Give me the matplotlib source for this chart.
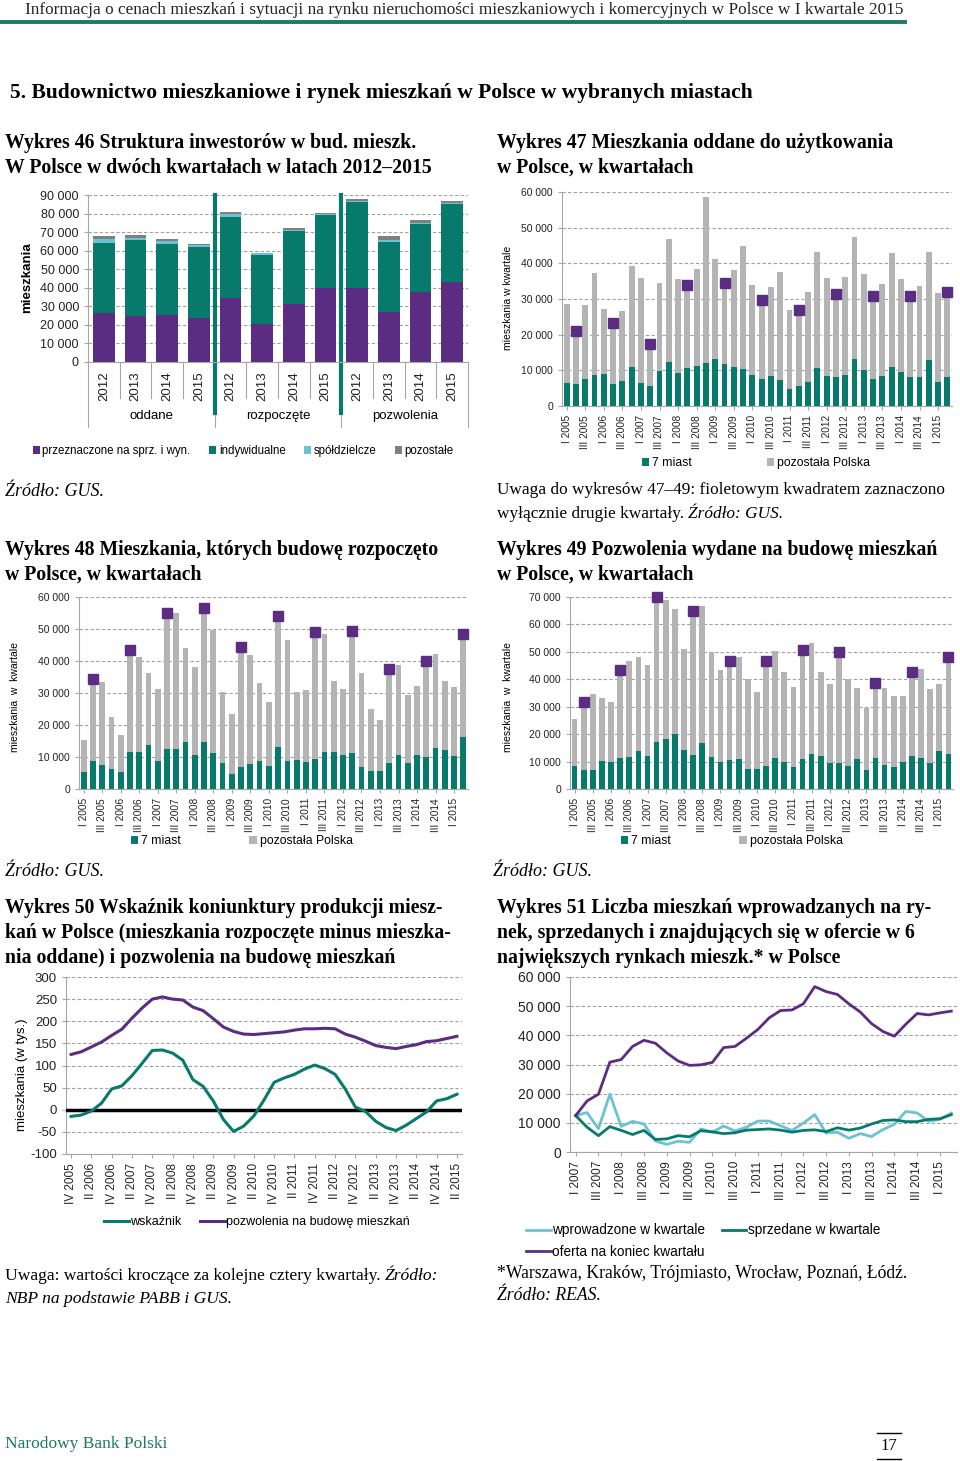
import numpy as np
import matplotlib
matplotlib.use('Agg')
import matplotlib.pyplot as plt
import matplotlib.transforms as mtransforms
from matplotlib.lines import Line2D
from matplotlib.ticker import FuncFormatter, MultipleLocator

W, H = 960, 1461
SERIF = ['Liberation Serif', 'DejaVu Serif']
SANS = ['Liberation Sans', 'DejaVu Sans']
plt.rcParams['font.family'] = SANS
plt.rcParams['axes.unicode_minus'] = False

PURPLE = '#5a2d82'
TEAL = '#077a6b'
LBLUE = '#6bc2d3'
LGRAY = '#b4b4b4'
DGRAY = '#808080'
AXC = '#a6a6a6'

# Wykres 46 - struktura inwestorow (2 kwartaly)
groups46 = ['oddane', 'rozpoczęte', 'pozwolenia']
years46 = ['2012', '2013', '2014', '2015'] * 3
sprz46 = [26500, 25000, 25500, 23500, 34500, 20500, 31000, 40000, 40000, 27000, 37500, 43000]
indyw46 = [37500, 40500, 38000, 38500, 43500, 37000, 39500, 39000, 46000, 37500, 37000, 42000]
spold46 = [2500, 1500, 1500, 1000, 2000, 1000, 500, 1000, 500, 1000, 500, 500]
pozost46 = [1500, 1500, 1300, 500, 700, 500, 1300, 300, 1500, 2500, 1500, 1000]

# kwartaly I 2005 - II 2015
quarters = [f'{r} {y}' for y in range(2005, 2016) for r in ['I', 'II', 'III', 'IV']][:42]

# Wykres 47 - oddane
total47 = [28500, 21000, 28200, 37300, 27300, 23300, 26500, 39200, 35800, 17300,
           34500, 46800, 35700, 33800, 38500, 58500, 41200, 34500, 38200, 44800,
           33800, 29600, 33300, 37700, 27000, 27000, 32000, 43300, 35800, 31500,
           36300, 47400, 37100, 30800, 34100, 42900, 35500, 30800, 33600, 43100,
           31700, 32000]
miast47 = [6500, 6200, 7700, 8700, 9100, 6300, 7000, 10900, 6500, 5500,
           9800, 12300, 9200, 10600, 11300, 12000, 13200, 11800, 10800, 10400,
           8700, 7500, 8300, 7200, 4700, 5600, 6800, 10600, 8500, 8000,
           8800, 13200, 10000, 7500, 8500, 11000, 9400, 8200, 8100, 12800,
           6800, 8200]

# Wykres 48 - rozpoczete
total48 = [15200, 34500, 33400, 22600, 16800, 43500, 41300, 36300, 31300, 55000,
           54900, 44000, 38000, 56600, 49600, 30300, 23500, 44500, 42000, 33000,
           27300, 54000, 46700, 30300, 30900, 49200, 48300, 33900, 31400, 49300,
           36100, 25000, 21600, 37500, 38900, 29500, 32200, 40000, 42300, 33600,
           31800, 48500]
miast48 = [5300, 8900, 7500, 6400, 5400, 11500, 11500, 13900, 8600, 12600,
           12600, 14800, 10600, 14800, 11400, 8200, 4800, 6800, 7800, 8800,
           7100, 13200, 8800, 9200, 8400, 9500, 11600, 11600, 10500, 11400,
           7000, 5700, 5700, 8200, 10600, 8200, 10600, 10100, 12700, 12300,
           10200, 16400]

# Wykres 49 - pozwolenia
total49 = [25500, 31800, 34700, 33300, 31700, 43500, 46700, 48000, 45200, 70000,
           68800, 65600, 50900, 65000, 66900, 50000, 43400, 46800, 48300, 40200,
           35400, 46800, 50200, 42600, 37300, 50800, 53300, 42800, 38300, 49800,
           40000, 37000, 29400, 38500, 37000, 34000, 34000, 42500, 43700, 36600,
           38400, 48000]
miast49 = [8500, 6800, 7100, 10100, 9900, 11300, 11800, 13900, 11900, 17100,
           18300, 19900, 14300, 12500, 16700, 11800, 9800, 10500, 11000, 7400,
           7200, 8300, 11200, 10000, 8200, 11000, 12600, 12200, 9500, 9500,
           8300, 10800, 7100, 11200, 8600, 8000, 9900, 11900, 11400, 9400,
           13700, 12600]

# Wykres 50 - IV 2005 .. II 2015
quarters50 = quarters[3:]
wskaznik50 = [-15, -12, -3, 15, 47, 54, 77, 105, 134, 135, 128, 112, 68, 53, 20,
              -22, -49, -37, -14, 22, 62, 72, 80, 92, 101, 93, 80, 47, 6, -4,
              -26, -40, -47, -35, -20, -5, 20, 25, 35]
pozwol50 = [125, 131, 142, 153, 168, 182, 207, 230, 250, 255, 250, 248, 232, 224,
            206, 187, 177, 171, 170, 172, 174, 176, 180, 183, 183, 184, 183, 171,
            164, 155, 145, 141, 138, 143, 147, 154, 156, 161, 166]

# Wykres 51 - I 2007 .. II 2015
quarters51 = quarters[8:]
oferta51 = [12500, 17500, 19800, 30800, 31700, 36200, 38300, 37300, 34000, 31200,
            29700, 29900, 30700, 35800, 36200, 39000, 42000, 46000, 48500, 48700,
            50800, 56700, 55000, 54000, 50800, 48000, 44000, 41300, 39700, 43800,
            47500, 47000, 47700, 48300]
wprow51 = [12500, 13500, 8000, 19800, 8800, 10500, 9600, 3800, 2600, 3700,
           3300, 7900, 6800, 8900, 7200, 8500, 10600, 10600, 9000, 7400,
           9900, 12800, 6500, 6800, 4700, 6300, 5300, 7700, 9500, 13900,
           13400, 10500, 11200, 13300]
sprzed51 = [12500, 8500, 5600, 8700, 7400, 6000, 7400, 4300, 4500, 5600,
            5200, 7300, 6900, 6300, 6600, 7500, 7700, 7900, 7500, 6800,
            7400, 7600, 7000, 8300, 7500, 8200, 9600, 10800, 11000, 10400,
            10400, 11200, 11400, 12800]

fig = plt.figure(figsize=(W / 100, H / 100), dpi=100)
fig.patch.set_facecolor('white')


def axes_px(left, top, right, bottom):
    return fig.add_axes([left / W, 1 - bottom / H, (right - left) / W, (bottom - top) / H])


def thousands(v, pos):
    return f'{int(round(v)):,}'.replace(',', ' ')


def style_ax(ax, fs):
    for s in ['top', 'right']:
        ax.spines[s].set_visible(False)
    for s in ['left', 'bottom']:
        ax.spines[s].set_color(AXC)
    ax.yaxis.grid(True, color='#a0a0a0', ls=(0, (3, 2)), lw=0.8)
    ax.set_axisbelow(True)
    ax.tick_params(colors=AXC, labelcolor='#222222', labelsize=fs, length=3)


def ftext(x, y, s, **kw):
    kw.setdefault('va', 'center')
    kw.setdefault('family', SERIF)
    return fig.text(x / W, 1 - y / H, s, **kw)


def text_parts(x, y, parts, size):
    r = fig.canvas.get_renderer()
    for s, st in parts:
        t = ftext(x, y, s, fontsize=size, style=st)
        x = t.get_window_extent(r).x1


# ---------- naglowki ----------
ftext(25, 10, 'Informacja o cenach mieszkań i sytuacji na rynku nieruchomości mieszkaniowych i komercyjnych w Polsce w I kwartale 2015',
      fontsize=12.4, color='#222222')
fig.add_artist(Line2D([0, 905 / W], [1 - 22 / H] * 2, color='#1d7a60', lw=2.8))
ftext(10, 93, '5. Budownictwo mieszkaniowe i rynek mieszkań w Polsce w wybranych miastach',
      fontsize=15.5, weight='bold')

TF = 14.2
ftext(5, 143, 'Wykres 46 Struktura inwestorów w bud. mieszk.', fontsize=TF, weight='bold')
ftext(5, 168, 'W Polsce w dwóch kwartałach w latach 2012–2015', fontsize=TF, weight='bold')
ftext(497, 143, 'Wykres 47 Mieszkania oddane do użytkowania', fontsize=TF, weight='bold')
ftext(497, 168, 'w Polsce, w kwartałach', fontsize=TF, weight='bold')

# ---------- Wykres 46 ----------
ax = axes_px(88, 195, 468, 362)
style_ax(ax, 8.5)
x46 = np.arange(len(years46))
b1 = np.array(sprz46)
b2 = b1 + np.array(indyw46)
b3 = b2 + np.array(spold46)
ax.bar(x46, sprz46, width=0.68, color=PURPLE, label='przeznaczone na sprz. i wyn.')
ax.bar(x46, indyw46, bottom=b1, width=0.68, color=TEAL, label='indywidualne')
ax.bar(x46, spold46, bottom=b2, width=0.68, color=LBLUE, label='spółdzielcze')
ax.bar(x46, pozost46, bottom=b3, width=0.68, color=DGRAY, label='pozostałe')
ax.set_xlim(-0.5, 11.5)
ax.set_ylim(0, 90000)
ax.yaxis.set_major_locator(MultipleLocator(10000))
ax.yaxis.set_major_formatter(FuncFormatter(thousands))
ax.tick_params(axis='y', labelsize=9)
ax.set_xticks(x46)
ax.set_xticklabels(years46, rotation=90, fontsize=9.5)
ax.tick_params(axis='x', length=0, pad=7)
tr = mtransforms.blended_transform_factory(ax.transData, ax.transAxes)
for b in np.arange(-0.5, 12, 1):
    low = -0.39 if b in (-0.5, 3.5, 7.5, 11.5) else -0.216
    ax.plot([b, b], [0, low], color=AXC, lw=0.8, transform=tr, clip_on=False)
for b in (3.5, 7.5):
    ax.plot([b, b], [1.0, -0.305], color=TEAL, lw=3, transform=tr, clip_on=False)
for i, g in enumerate(groups46):
    ax.text(4 * i + 1.5, -0.325, g, transform=tr, ha='center', va='center', fontsize=9.5)
fig.text(27 / W, 1 - 278 / H, 'mieszkania', rotation=90, ha='center', va='center',
         fontsize=9.5, weight='bold')
ax.legend(loc='center left', bbox_to_anchor=(28 / W, 1 - 451 / H), bbox_transform=fig.transFigure,
          ncol=4, frameon=False, fontsize=8.3, handlelength=0.6, handleheight=0.6,
          handletextpad=0.25, columnspacing=1.6, borderaxespad=0)


# ---------- Wykresy 47-49 ----------
def quarter_chart(box, miast, total, ymax, ylab, ylab_xy, leg_xy, leg_gap):
    ax = axes_px(*box)
    style_ax(ax, 7.5)
    x = np.arange(len(total))
    tot = np.array(total)
    ax.bar(x, miast, width=0.62, color=TEAL, label='7 miast')
    ax.bar(x, tot - np.array(miast), bottom=miast, width=0.62, color=LGRAY, label='pozostała Polska')
    q2 = x[1::4]
    ax.plot(q2, tot[q2], 's', color=PURPLE, ms=6.5, zorder=5, clip_on=False)
    ax.set_xlim(-0.5, len(total) - 0.5)
    ax.set_ylim(0, ymax)
    ax.yaxis.set_major_locator(MultipleLocator(10000))
    ax.yaxis.set_major_formatter(FuncFormatter(thousands))
    ax.set_xticks(x[::2])
    ax.set_xticklabels(quarters[::2], rotation=90, fontsize=7.3)
    fig.text(ylab_xy[0] / W, 1 - ylab_xy[1] / H, ylab, rotation=90, ha='center', va='center',
             fontsize=7.5)
    ax.legend(loc='center left', bbox_to_anchor=(leg_xy[0] / W, 1 - leg_xy[1] / H),
              bbox_transform=fig.transFigure, ncol=2, frameon=False, fontsize=8.8,
              handlelength=0.6, handleheight=0.6, handletextpad=0.25,
              columnspacing=leg_gap, borderaxespad=0)
    return ax


quarter_chart((562, 192, 952, 406), miast47, total47, 60000, 'mieszkania w kwartale',
              (508, 298), (637, 463), 6.1)
quarter_chart((79, 597, 468, 789), miast48, total48, 60000, 'mieszkania  w  kwartale',
              (15, 697), (126, 841), 5.6)
quarter_chart((570, 597, 953, 789), miast49, total49, 70000, 'mieszkania  w  kwartale',
              (508, 697), (616, 841), 5.6)

# teksty srodkowe
ftext(5, 492, 'Źródło: GUS.', fontsize=13, style='italic')
ftext(497, 490, 'Uwaga do wykresów 47–49: fioletowym kwadratem zaznaczono', fontsize=12.4)
text_parts(497, 514, [('wyłącznie drugie kwartały. ', 'normal'), ('Źródło: GUS.', 'italic')], 12.4)
ftext(5, 550, 'Wykres 48 Mieszkania, których budowę rozpoczęto', fontsize=TF, weight='bold')
ftext(5, 575, 'w Polsce, w kwartałach', fontsize=TF, weight='bold')
ftext(497, 550, 'Wykres 49 Pozwolenia wydane na budowę mieszkań', fontsize=TF, weight='bold')
ftext(497, 575, 'w Polsce, w kwartałach', fontsize=TF, weight='bold')
ftext(5, 871, 'Źródło: GUS.', fontsize=13, style='italic')
ftext(493, 871, 'Źródło: GUS.', fontsize=13, style='italic')
ftext(5, 908, 'Wykres 50 Wskaźnik koniunktury produkcji miesz-', fontsize=TF, weight='bold')
ftext(5, 933, 'kań w Polsce (mieszkania rozpoczęte minus mieszka-', fontsize=TF, weight='bold')
ftext(5, 958, 'nia oddane) i pozwolenia na budowę mieszkań', fontsize=TF, weight='bold')
ftext(497, 908, 'Wykres 51 Liczba mieszkań wprowadzanych na ry-', fontsize=TF, weight='bold')
ftext(497, 933, 'nek, sprzedanych i znajdujących się w ofercie w 6', fontsize=TF, weight='bold')
ftext(497, 958, 'największych rynkach mieszk.* w Polsce', fontsize=TF, weight='bold')

# ---------- Wykres 50 ----------
ax = axes_px(66, 977, 462, 1154)
style_ax(ax, 9.5)
x50 = np.arange(len(wskaznik50))
ax.axhline(0, color='black', lw=2.5, zorder=3)
ax.plot(x50, wskaznik50, color=TEAL, lw=2.2, label='wskaźnik', zorder=4)
ax.plot(x50, pozwol50, color=PURPLE, lw=2.2, label='pozwolenia na budowę mieszkań', zorder=4)
ax.set_xlim(-0.5, len(x50) - 0.5)
ax.set_ylim(-100, 300)
ax.yaxis.set_major_locator(MultipleLocator(50))
ax.set_xticks(x50[::2])
ax.set_xticklabels(quarters50[::2], rotation=90, fontsize=8.5)
fig.text(22 / W, 1 - 1075 / H, 'mieszkania (w tys.)', rotation=90, ha='center', va='center',
         fontsize=9.5)
ax.legend(loc='center left', bbox_to_anchor=(99 / W, 1 - 1222 / H), bbox_transform=fig.transFigure,
          ncol=2, frameon=False, fontsize=9, handlelength=2.0, handletextpad=0.1,
          columnspacing=1.5, borderaxespad=0)

# ---------- Wykres 51 ----------
ax = axes_px(570, 977, 957, 1152)
style_ax(ax, 10)
x51 = np.arange(len(oferta51))
l1, = ax.plot(x51, wprow51, color=LBLUE, lw=2.0, label='wprowadzone w kwartale')
l2, = ax.plot(x51, sprzed51, color=TEAL, lw=2.0, label='sprzedane w kwartale')
l3, = ax.plot(x51, oferta51, color=PURPLE, lw=2.0, label='oferta na koniec kwartału')
ax.set_xlim(-0.5, len(x51) - 0.5)
ax.set_ylim(0, 60000)
ax.yaxis.set_major_locator(MultipleLocator(10000))
ax.yaxis.set_major_formatter(FuncFormatter(thousands))
ax.set_xticks(x51[::2])
ax.set_xticklabels(quarters51[::2], rotation=90, fontsize=8.5)
ax.legend(handles=[l1, l3, l2], loc='upper left', bbox_to_anchor=(521 / W, 1 - 1218 / H),
          bbox_transform=fig.transFigure, ncol=2, frameon=False, fontsize=9.8,
          handlelength=1.8, handletextpad=0.1, columnspacing=1.2, borderaxespad=0,
          labelspacing=0.55)

# dolne teksty
text_parts(5, 1276, [('Uwaga: wartości kroczące za kolejne cztery kwartały. ', 'normal'),
                     ('Źródło:', 'italic')], 12.6)
ftext(5, 1299, 'NBP na podstawie PABB i GUS.', fontsize=12.6, style='italic')
ftext(497, 1273, '*Warszawa, Kraków, Trójmiasto, Wrocław, Poznań, Łódź.', fontsize=12.7)
ftext(497, 1296, 'Źródło: REAS.', fontsize=12.7, style='italic')

ftext(5, 1444, 'Narodowy Bank Polski', fontsize=12.5, color='#1d7a60')
ftext(889, 1446, '17', fontsize=12, ha='center')
fig.add_artist(Line2D([877 / W, 901 / W], [1 - 1433 / H] * 2, color='black', lw=1))
fig.add_artist(Line2D([877 / W, 901 / W], [1 - 1459 / H] * 2, color='black', lw=1))

fig.savefig('out.png', dpi=100, facecolor='white')
